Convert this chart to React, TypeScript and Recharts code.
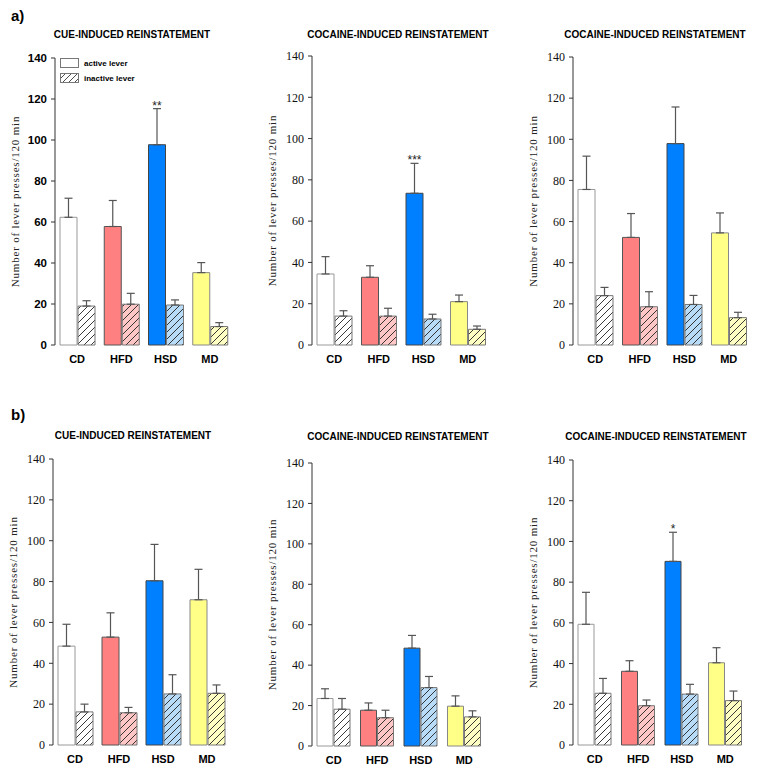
import React from 'react';
import { BarChart, Bar, XAxis, YAxis, ErrorBar, Cell, LabelList, Legend, Label } from 'recharts';

const groups = ['CD', 'HFD', 'HSD', 'MD'];
const yTicks = [0, 20, 40, 60, 80, 100, 120, 140];

const activeFills = ['#ffffff', '#ff8080', '#0080ff', '#ffff88'];
const activeStrokes = ['#999999', '#555555', '#444444', '#888888'];
const inactiveFills = ['#ffffff', '#ffc6c6', '#b8dcf8', '#ffffc4'];

const cueTitle = 'CUE-INDUCED REINSTATEMENT';
const cocTitle = 'COCAINE-INDUCED REINSTATEMENT';

// a) cue-induced
const aCueActive = [62.3, 57.8, 97.7, 35.3];
const aCueActiveSem = [9.3, 12.7, 17.6, 4.9];
const aCueInactive = [19, 19.9, 19.5, 9];
const aCueInactiveSem = [2.6, 5.3, 2.5, 1.9];
const aCueSig = ['', '', '**', ''];

// a) cocaine-induced (1)
const aCoc1Active = [34.4, 32.8, 73.5, 21];
const aCoc1ActiveSem = [8.4, 5.6, 14.5, 3.2];
const aCoc1Inactive = [14, 14, 12.6, 7.6];
const aCoc1InactiveSem = [2.6, 3.8, 2.3, 1.6];
const aCoc1Sig = ['', '', '***', ''];

// a) cocaine-induced (2)
const aCoc2Active = [75.6, 52.3, 97.9, 54.5];
const aCoc2ActiveSem = [16.2, 11.6, 17.8, 9.7];
const aCoc2Inactive = [24, 18.6, 19.7, 13.3];
const aCoc2InactiveSem = [4, 7.3, 4.4, 2.6];
const aCoc2Sig = ['', '', '', ''];

// b) cue-induced
const bCueActive = [48.4, 52.8, 80.4, 71.1];
const bCueActiveSem = [10.7, 11.9, 17.8, 14.9];
const bCueInactive = [16.2, 15.8, 25, 25.3];
const bCueInactiveSem = [3.8, 2.6, 9.4, 4.1];
const bCueSig = ['', '', '', ''];

// b) cocaine-induced (1)
const bCoc1Active = [23.5, 17.7, 48.4, 19.7];
const bCoc1ActiveSem = [4.8, 3.6, 6.3, 5.1];
const bCoc1Inactive = [18.2, 14, 28.9, 14.4];
const bCoc1InactiveSem = [5.3, 3.7, 5.5, 3];
const bCoc1Sig = ['', '', '', ''];

// b) cocaine-induced (2)
const bCoc2Active = [59.3, 36.2, 90.2, 40.4];
const bCoc2ActiveSem = [15.7, 5.2, 14.3, 7.4];
const bCoc2Inactive = [25.4, 19.3, 25, 21.8];
const bCoc2InactiveSem = [7.3, 2.8, 4.8, 4.7];
const bCoc2Sig = ['', '', '*', ''];

const YW = 80;
const MT = 10;
const XH = 25;

const LegendBox = () => (
  <div style={{ fontFamily: 'Liberation Sans, Arial, sans-serif', fontWeight: 'bold', fontSize: 8, color: '#000' }}>
    <div style={{ display: 'flex', alignItems: 'center', height: 10, marginBottom: 5 }}>
      <svg width={19} height={10}>
        <rect x={0.5} y={0.5} width={18} height={9} fill="#fff" stroke="#777" />
      </svg>
      <span style={{ marginLeft: 5 }}>active lever</span>
    </div>
    <div style={{ display: 'flex', alignItems: 'center', height: 10 }}>
      <svg width={19} height={10}>
        <defs>
          <pattern id="legend-hatch" patternUnits="userSpaceOnUse" width={6} height={6}>
            <rect width={6} height={6} fill="#fff" />
            <path d="M-1,1 L1,-1 M0,6 L6,0 M5,7 L7,5" stroke="#222" strokeWidth={0.8} />
          </pattern>
        </defs>
        <rect x={0.5} y={0.5} width={18} height={9} fill="url(#legend-hatch)" stroke="#777" />
      </svg>
      <span style={{ marginLeft: 5 }}>inactive lever</span>
    </div>
  </div>
);

type PanelProps = {
  id: string;
  active: number[];
  activeSem: number[];
  inactive: number[];
  inactiveSem: number[];
  sig: string[];
  axisX: number;
  yTop: number;
  yBottom: number;
  plotW: number;
  boldTicks?: boolean;
  legend?: boolean;
};

const Panel = ({ id, active, activeSem, inactive, inactiveSem, sig, axisX, yTop, yBottom, plotW, boldTicks, legend }: PanelProps) => {
  const data = groups.map((g, i) => ({
    group: g,
    active: active[i],
    activeErr: [0, activeSem[i]],
    inactive: inactive[i],
    inactiveErr: [0, inactiveSem[i]],
    sig: sig[i],
  }));
  const plotH = yBottom - yTop;
  const width = YW + plotW + 5;
  const height = MT + plotH + XH;

  const tickStyle = boldTicks
    ? { fontFamily: 'Liberation Sans, Arial, sans-serif', fontWeight: 'bold', fontSize: 11.5, fill: '#000' }
    : { fontFamily: 'Liberation Serif, Times New Roman, serif', fontSize: 12, fill: '#111' };

  const renderSig = (p: any) => {
    const { x, y, width: w, height: h, value, index } = p;
    if (!value) return null;
    const v = active[index];
    const top = Number(y) - (activeSem[index] * Number(h)) / v;
    return (
      <text x={Number(x) + Number(w) / 2} y={top + 1} textAnchor="middle" fontSize={12} fontFamily="Liberation Sans, Arial, sans-serif" fill="#222">
        {value}
      </text>
    );
  };

  return (
    <div style={{ position: 'absolute', left: axisX - YW, top: yTop - MT }}>
      <BarChart width={width} height={height} data={data} margin={{ top: MT, right: 5, left: 0, bottom: 0 }} barCategoryGap={5} barGap={1}>
        <defs>
          {inactiveFills.map((c, i) => (
            <pattern key={i} id={`hatch-${id}-${i}`} patternUnits="userSpaceOnUse" width={7} height={7}>
              <rect width={7} height={7} fill={c} />
              <path d="M-1,1 L1,-1 M0,7 L7,0 M6,8 L8,6" stroke="#222" strokeWidth={0.9} />
            </pattern>
          ))}
        </defs>
        <XAxis
          dataKey="group"
          axisLine={false}
          tickLine={false}
          tickSize={0}
          tickMargin={10}
          interval={0}
          height={XH}
          tick={{ fontFamily: 'Liberation Sans, Arial, sans-serif', fontWeight: 'bold', fontSize: 11, fill: '#000' }}
        />
        <YAxis
          domain={[0, 140]}
          ticks={yTicks}
          interval={0}
          width={YW}
          tickSize={4}
          tickMargin={4}
          axisLine={{ stroke: '#333' }}
          tickLine={{ stroke: '#333' }}
          tick={tickStyle}
        >
          <Label
            value="Number of lever presses/120 min"
            angle={-90}
            position="center"
            style={{ fontFamily: 'Liberation Serif, Times New Roman, serif', fontSize: 11, letterSpacing: 0.8, fill: '#222' }}
          />
        </YAxis>
        {legend && (
          <Legend
            layout="vertical"
            align="center"
            verticalAlign="middle"
            content={() => <LegendBox />}
            wrapperStyle={{ position: 'absolute', left: YW + 5, top: MT, width: 120 }}
          />
        )}
        <Bar dataKey="active" isAnimationActive={false} strokeWidth={1}>
          {data.map((_, i) => (
            <Cell key={i} fill={activeFills[i]} stroke={activeStrokes[i]} />
          ))}
          <ErrorBar dataKey="activeErr" width={4} stroke="#555" strokeWidth={1.2} direction="y" />
          <LabelList dataKey="sig" content={renderSig} />
        </Bar>
        <Bar dataKey="inactive" isAnimationActive={false} strokeWidth={1}>
          {data.map((_, i) => (
            <Cell key={i} fill={`url(#hatch-${id}-${i})`} stroke="#777" />
          ))}
          <ErrorBar dataKey="inactiveErr" width={4} stroke="#555" strokeWidth={1.2} direction="y" />
        </Bar>
      </BarChart>
    </div>
  );
};

const titleStyle: React.CSSProperties = {
  position: 'absolute',
  width: 300,
  textAlign: 'center',
  fontFamily: 'Liberation Sans, Arial, sans-serif',
  fontWeight: 'bold',
  fontSize: 10,
  lineHeight: '12px',
  color: '#000',
};

const tagStyle: React.CSSProperties = {
  position: 'absolute',
  fontFamily: 'Liberation Sans, Arial, sans-serif',
  fontWeight: 'bold',
  fontSize: 15,
  lineHeight: '18px',
  color: '#000',
};

export default function App() {
  return (
    <div style={{ position: 'absolute', left: 0, top: 0, width: 758, height: 772, background: '#fff', overflow: 'hidden' }}>
      <div style={{ ...tagStyle, left: 11, top: 7 }}>a)</div>
      <div style={{ ...tagStyle, left: 11, top: 406 }}>b)</div>

      <div style={{ ...titleStyle, left: 132 - 150, top: 29 }}>{cueTitle}</div>
      <div style={{ ...titleStyle, left: 398 - 150, top: 29 }}>{cocTitle}</div>
      <div style={{ ...titleStyle, left: 655 - 150, top: 29 }}>{cocTitle}</div>
      <div style={{ ...titleStyle, left: 133 - 150, top: 430 }}>{cueTitle}</div>
      <div style={{ ...titleStyle, left: 398 - 150, top: 431 }}>{cocTitle}</div>
      <div style={{ ...titleStyle, left: 656 - 150, top: 431 }}>{cocTitle}</div>

      <Panel id="a1" active={aCueActive} activeSem={aCueActiveSem} inactive={aCueInactive} inactiveSem={aCueInactiveSem} sig={aCueSig}
        axisX={55} yTop={58} yBottom={345} plotW={177} boldTicks legend />
      <Panel id="a2" active={aCoc1Active} activeSem={aCoc1ActiveSem} inactive={aCoc1Inactive} inactiveSem={aCoc1InactiveSem} sig={aCoc1Sig}
        axisX={312} yTop={56} yBottom={345} plotW={178} />
      <Panel id="a3" active={aCoc2Active} activeSem={aCoc2ActiveSem} inactive={aCoc2Inactive} inactiveSem={aCoc2InactiveSem} sig={aCoc2Sig}
        axisX={573} yTop={57} yBottom={345} plotW={178} />
      <Panel id="b1" active={bCueActive} activeSem={bCueActiveSem} inactive={bCueInactive} inactiveSem={bCueInactiveSem} sig={bCueSig}
        axisX={53} yTop={459} yBottom={745} plotW={176} />
      <Panel id="b2" active={bCoc1Active} activeSem={bCoc1ActiveSem} inactive={bCoc1Inactive} inactiveSem={bCoc1InactiveSem} sig={bCoc1Sig}
        axisX={312} yTop={463} yBottom={746} plotW={174} />
      <Panel id="b3" active={bCoc2Active} activeSem={bCoc2ActiveSem} inactive={bCoc2Inactive} inactiveSem={bCoc2InactiveSem} sig={bCoc2Sig}
        axisX={573} yTop={460} yBottom={745} plotW={174} />
    </div>
  );
}
